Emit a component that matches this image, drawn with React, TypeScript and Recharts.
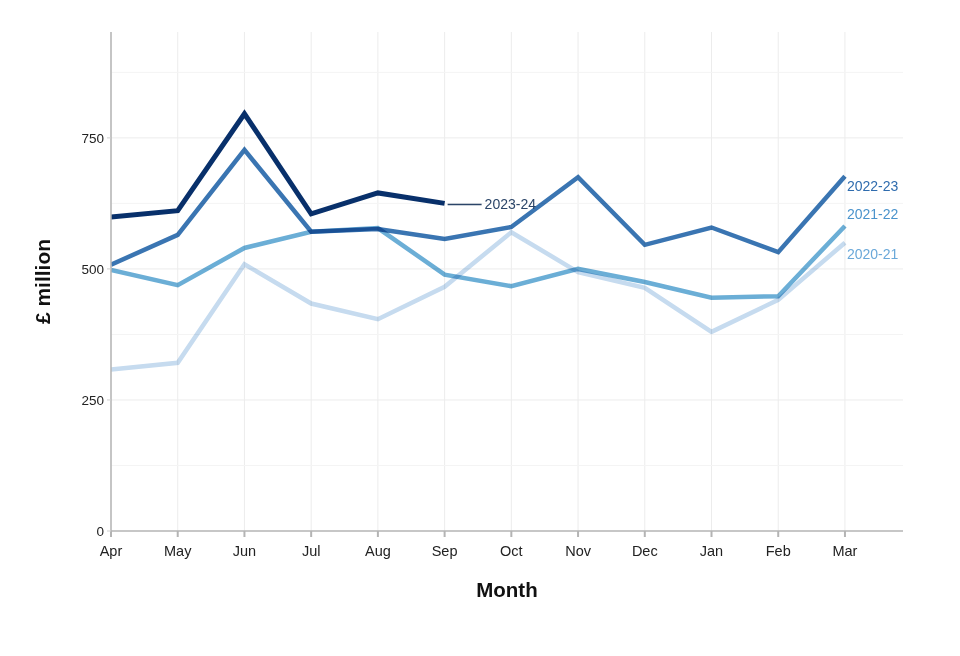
import { LineChart, Line, XAxis, YAxis, ReferenceLine, LabelList } from 'recharts';

const MONTHS = ['Apr', 'May', 'Jun', 'Jul', 'Aug', 'Sep', 'Oct', 'Nov', 'Dec', 'Jan', 'Feb', 'Mar'];

// £ million per month
const Y2020_21 = [308, 321, 509, 434, 404, 466, 570, 494, 464, 380, 441, 550];
const Y2021_22 = [498, 469, 540, 571, 578, 489, 467, 500, 475, 445, 448, 582];
const Y2022_23 = [508, 565, 727, 571, 576, 557, 580, 675, 546, 579, 532, 677];
const Y2023_24 = [599, 611, 796, 605, 645, 625];

const MAJOR_TICKS = [0, 250, 500, 750];
const MINOR_TICKS = [125, 375, 625, 875];

const rows = MONTHS.map((m, i) => ({
  i,
  month: m,
  y2020: Y2020_21[i],
  y2021: Y2021_22[i],
  y2022: Y2022_23[i],
  y2023: i < Y2023_24.length ? Y2023_24[i] : null,
}));

const FONT = '"Liberation Sans", Arial, Helvetica, sans-serif';
const AXIS = '#b4b4b4';

const series = [
  { key: 'y2020', name: '2020-21', stroke: '#c6dbef', text: '#6aa8d9', width: 4.5, dy: 11 },
  { key: 'y2021', name: '2021-22', stroke: '#6baed6', text: '#4a93cc', width: 4.5, dy: -12 },
  { key: 'y2022', name: '2022-23', stroke: '#3a75b2', text: '#2f6cae', width: 4.5, dy: 10 },
  { key: 'y2023', name: '2023-24', stroke: '#08306b', text: '#2b4568', width: 5, dy: 0 },
];

function endLabel(s: (typeof series)[number], lastIndex: number, leader: boolean) {
  return (props: any) => {
    const { x, y, index, value } = props;
    if (index !== lastIndex || value == null) return null;
    if (leader) {
      return (
        <g>
          <line x1={x + 3} x2={x + 37} y1={y + 1} y2={y + 1} stroke={s.text} strokeWidth={1.5} />
          <text x={x + 40} y={y + 1} dy="0.35em" fontSize={14} fill={s.text} fontFamily={FONT}>
            {s.name}
          </text>
        </g>
      );
    }
    return (
      <text x={x + 2} y={y + s.dy} dy="0.35em" fontSize={14} fill={s.text} fontFamily={FONT}>
        {s.name}
      </text>
    );
  };
}

export default function App() {
  return (
    <div style={{ position: 'absolute', left: 0, top: 0, width: 960, height: 656, background: '#fff' }}>
      <style>{`.recharts-line-curve { mix-blend-mode: multiply; }`}</style>
      <LineChart width={960} height={656} data={rows} margin={{ top: 32, right: 57, bottom: 65, left: 41 }}>
        {/* grid: month verticals, major + faint minor horizontals */}
        {MONTHS.map((_, i) => (
          <ReferenceLine key={'v' + i} x={i} stroke="#ececec" strokeWidth={1} />
        ))}
        {MAJOR_TICKS.filter((v) => v > 0).map((v) => (
          <ReferenceLine key={'h' + v} y={v} stroke="#ececec" strokeWidth={1} />
        ))}
        {MINOR_TICKS.map((v) => (
          <ReferenceLine key={'m' + v} y={v} stroke="#f4f4f4" strokeWidth={1} />
        ))}
        <XAxis
          type="number"
          dataKey="i"
          domain={[0, 11.87]}
          ticks={MONTHS.map((_, i) => i)}
          tickFormatter={(v: number) => MONTHS[v]}
          allowDataOverflow
          height={60}
          axisLine={{ stroke: AXIS, strokeWidth: 1.5 }}
          tickLine={{ stroke: AXIS, strokeWidth: 2 }}
          tickSize={6}
          tickMargin={9}
          tick={{ fontSize: 14.5, fill: '#222', fontFamily: FONT }}
          label={{
            content: ({ viewBox }: any) => (
              <text
                x={viewBox.x + viewBox.width / 2}
                y={viewBox.y + 66}
                textAnchor="middle"
                fontSize={20.5}
                fontWeight={700}
                fill="#111"
                fontFamily={FONT}
              >
                Month
              </text>
            ),
          }}
        />
        <YAxis
          type="number"
          domain={[0, 952]}
          ticks={MAJOR_TICKS}
          allowDataOverflow
          width={70}
          axisLine={{ stroke: AXIS, strokeWidth: 1.5 }}
          tickLine={{ stroke: '#cfcfcf', strokeWidth: 1 }}
          tickSize={4}
          tickMargin={3}
          tick={{ fontSize: 13.5, fill: '#222', fontFamily: FONT }}
          label={{
            content: ({ viewBox }: any) => {
              const cx = viewBox.x + 1;
              const cy = viewBox.y + viewBox.height / 2;
              return (
                <text
                  x={cx}
                  y={cy}
                  transform={`rotate(-90 ${cx} ${cy})`}
                  textAnchor="middle"
                  dominantBaseline="central"
                  fontSize={21}
                  fontWeight={700}
                  fill="#111"
                  fontFamily={FONT}
                >
                  £ million
                </text>
              );
            },
          }}
        />
        {series.map((s) => {
          const isCurrent = s.key === 'y2023';
          const last = isCurrent ? Y2023_24.length - 1 : MONTHS.length - 1;
          return (
            <Line
              key={s.key}
              dataKey={s.key}
              name={s.name}
              type="linear"
              stroke={s.stroke}
              strokeWidth={s.width}
              dot={false}
              activeDot={false}
              connectNulls={false}
              isAnimationActive={false}
            >
              <LabelList dataKey={s.key} content={endLabel(s, last, isCurrent)} />
            </Line>
          );
        })}
      </LineChart>
    </div>
  );
}
